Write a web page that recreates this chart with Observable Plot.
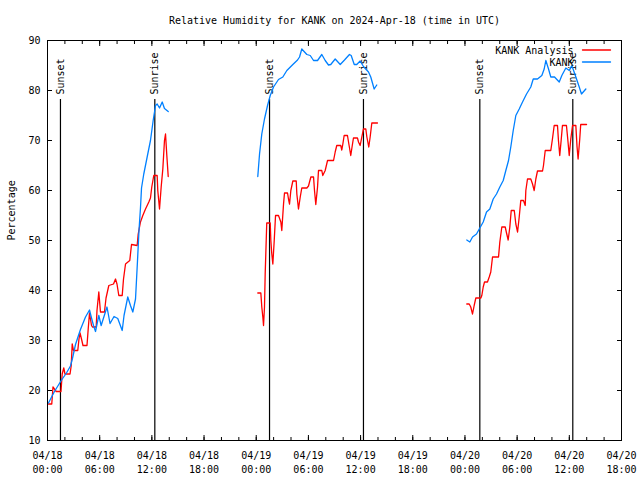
<!DOCTYPE html>
<html>
<head>
<meta charset="utf-8">
<script src="https://cdn.jsdelivr.net/npm/d3@7"></script>
<script src="https://cdn.jsdelivr.net/npm/@observablehq/plot@0.6"></script>
<style>
  html, body { margin: 0; padding: 0; background: #fff; }
</style>
</head>
<body>
<div id="chart"></div>
<script>
const titleText = "Relative Humidity for KANK on 2024-Apr-18 (time in UTC)";
const yLabel = "Percentage";
const seriesNames = ["KANK Analysis", "KANK"];
const seriesColors = ["#ff0000", "#0080ff"];

// hours since 2024-04-18 00:00 UTC; null = gap between days
const anaHours = [
  0.11,0.49,0.63,1.00,1.55,1.69,1.87,2.01,2.59,2.73,2.84,2.99,3.48,3.62,3.74,3.91,4.08,4.54,4.68,4.83,5.06,5.17,5.60,5.69,5.90,6.09,6.55,6.73,7.05,7.59,7.82,7.99,8.20,8.59,8.74,8.97,9.46,9.66,10.31,10.43,10.69,10.96,11.27,11.65,11.84,11.99,12.22,12.61,12.68,12.88,13.07,13.26,13.45,13.57,13.72,13.88,
  null,
  24.18,24.53,24.64,24.76,24.84,24.95,25.03,25.21,25.61,25.68,25.79,25.91,26.07,26.22,26.56,26.83,26.94,27.14,27.25,27.60,27.71,27.83,27.98,28.21,28.60,28.67,28.86,29.06,29.24,29.82,30.01,30.28,30.59,30.70,30.85,31.05,31.16,31.54,31.65,31.93,32.20,32.89,33.08,33.26,33.72,33.84,33.95,34.11,34.49,34.68,34.87,35.07,35.18,35.64,35.76,35.95,36.14,36.33,36.60,36.72,36.94,37.10,37.29,37.94,
  null,
  48.21,48.49,48.67,48.87,49.06,49.25,49.83,49.94,50.10,50.25,50.59,50.79,50.97,51.17,51.86,52.01,52.24,52.63,52.78,52.97,53.16,53.32,53.67,53.85,54.05,54.24,54.42,54.73,54.93,55.00,55.19,55.57,55.77,55.96,56.15,56.34,56.92,57.03,57.23,57.87,58.06,58.26,58.64,58.75,58.90,59.06,59.21,59.67,59.82,59.99,60.17,60.37,60.75,60.89,61.01,61.20,61.31,61.98
];
const anaValues = [
  17.3,17.3,20.7,19.8,19.8,23.3,24.5,23.3,23.3,25,29.3,28,28,30.3,31.5,30.3,29,29,32.3,35.5,33,32.7,32.7,36,39.7,35.7,35.7,38.5,41,41.3,42.3,41.3,39,39,42.3,45.3,46,49.2,49,51.3,53.7,55,56.3,57.7,58.5,60.7,63,63,60,56.3,60.7,64.3,70,71.3,67,62.8,
  null,
  39.5,39.5,36.7,34.7,33,36.7,43.3,53.5,53.5,50,47.3,45.3,50,55,55,53.7,52,57.3,59.5,59.5,58.3,57.3,60,61.9,61.9,59.3,56.3,58.7,60.5,60.5,60.9,62.7,62.7,60,57.2,60.7,64,64,63,64,66,66,67.7,69,69,68.1,69.2,71,71,69,67,69.3,70.5,70.5,69.7,69,70.7,72.3,72.3,70.7,68.7,70.7,73.5,73.5,
  null,
  37.3,37.3,36.7,35.3,37,38.5,38.5,39,40.7,41.7,41.7,42.7,43.7,46.7,46.7,49.7,52.7,52.7,51.5,50.1,52.7,56,56,53.3,51.7,54.7,58,58,57,60,62.3,62.3,61.3,60,62.3,63.9,63.9,65,68,68,70.3,73,73,70,67,70,73,73,70.3,67,70.3,73,73,68.7,66.3,70.3,73.2,73.2
];

const obsHours = [
  0.11,0.80,1.58,2.18,2.64,2.87,3.22,3.79,4.37,4.83,5.06,5.29,5.52,5.90,6.17,6.84,7.19,7.65,8.08,8.59,8.80,9.23,9.54,9.81,10.12,10.35,10.52,10.69,10.81,11.07,11.46,11.84,12.15,12.42,12.61,12.88,13.19,13.45,13.88,
  null,
  24.18,24.38,24.64,24.95,25.30,25.61,25.99,26.56,27.06,27.52,28.21,28.75,28.98,29.24,29.82,30.21,30.59,31.05,31.54,31.93,32.31,32.57,33.08,33.66,34.15,34.72,34.92,35.27,35.56,35.95,36.33,36.91,37.17,37.56,37.86,
  null,
  48.21,48.56,48.87,49.33,49.71,50.10,50.48,50.86,51.25,51.63,52.01,52.40,52.70,53.01,53.27,53.55,53.85,54.24,54.62,55.08,55.57,55.85,56.34,56.84,57.11,57.30,57.61,57.87,58.30,58.84,59.14,59.60,59.99,60.29,60.75,61.14,61.40,61.90
];
const obsValues = [
  17.5,19.8,22,23.5,24.9,26.4,29.2,32.2,34.7,36.1,34.5,33,31.8,35,33,36.7,33.4,34.8,34.4,32,35,38.7,37,35.7,38.3,46,52,56.5,60.5,63.3,66.7,70,74,77,77.3,76.5,77.7,76.4,75.8,
  null,
  62.8,67.3,71.3,74.3,77,79,80.7,82.2,82.7,84,85.2,86.1,86.7,88.3,87.2,87,86,86,87.2,86,85.1,85.2,86.3,85.2,86.1,87.2,87,85.2,85.2,85.9,84.8,83.7,82.7,80.3,81.1,
  null,
  50.1,49.7,50.7,51.3,52.5,53.7,55.7,56.3,58.3,59.3,60.7,62,64,66,68.7,72,75,76.3,77.7,79.3,80.7,82.3,82.3,83,84.3,86,84.3,82.7,82.7,81.7,83,84.5,84,85,82.7,80.7,79.3,80.3
];

const eventHours = [1.49, 12.34, 25.53, 36.33, 49.71, 60.40];
const eventLabels = ["Sunset", "Sunrise", "Sunset", "Sunrise", "Sunset", "Sunrise"];

const xTickHours = [0, 6, 12, 18, 24, 30, 36, 42, 48, 54, 60, 66];
const xTickLabels = ["04/18\n00:00","04/18\n06:00","04/18\n12:00","04/18\n18:00","04/19\n00:00","04/19\n06:00","04/19\n12:00","04/19\n18:00","04/20\n00:00","04/20\n06:00","04/20\n12:00","04/20\n18:00"];
const xMinorHours = d3.range(0, 67, 2);
const yTicks = [10, 20, 30, 40, 50, 60, 70, 80, 90];
const xDomainHours = [0, 66];
const yDomain = [10, 90];

const t0 = Date.UTC(2024, 3, 18);
const toDate = h => (h == null ? null : new Date(t0 + h * 3600000));

const analysis = anaHours.map((h, i) => ({t: toDate(h), v: anaValues[i]}));
const observed = obsHours.map((h, i) => ({t: toDate(h), v: obsValues[i]}));
const events = eventHours.map((h, i) => ({t: toDate(h), label: eventLabels[i]}));
const xTicks = xTickHours.map((h, i) => ({t: toDate(h), label: xTickLabels[i]}));
const majorDates = xTickHours.map(toDate);
const minorDates = xMinorHours.map(toDate);

const lineShape = {draw(context, l) { context.moveTo(0, 0); context.lineTo(0, -l); }};

const legendMarks = seriesNames.flatMap((name, i) => [
  Plot.text([name], {frameAnchor: "top-right", textAnchor: "end", lineAnchor: "middle", dx: -48, dy: 10 + i * 12, fill: "black"}),
  Plot.vector([0], {frameAnchor: "top-right", dx: -39, dy: 9.5 + i * 12, rotate: 90, length: 28, anchor: "start", shape: lineShape, stroke: seriesColors[i], strokeWidth: 1.3})
]);

const chart = Plot.plot({
  width: 640,
  height: 480,
  marginLeft: 47,
  marginRight: 19,
  marginTop: 40,
  marginBottom: 40,
  style: {fontFamily: "'DejaVu Sans Mono', monospace", fontSize: "10px", background: "white", color: "black"},
  x: {type: "utc", domain: xDomainHours.map(toDate)},
  y: {domain: yDomain},
  marks: [
    Plot.ruleX(events, {x: "t", stroke: "black", strokeWidth: 1.2, insetTop: 59}),
    Plot.text(events, {x: "t", text: "label", frameAnchor: "top", rotate: -90, textAnchor: "start", lineAnchor: "middle", dy: 54, fill: "black"}),
    Plot.line(analysis, {x: "t", y: "v", stroke: seriesColors[0], strokeWidth: 1.3}),
    Plot.line(observed, {x: "t", y: "v", stroke: seriesColors[1], strokeWidth: 1.3}),
    Plot.frame({stroke: "black"}),
    Plot.axisX({ticks: majorDates, anchor: "bottom", tickSize: -5, text: null, label: null}),
    Plot.axisX({ticks: majorDates, anchor: "top", tickSize: -5, text: null, label: null}),
    Plot.axisX({ticks: minorDates, anchor: "bottom", tickSize: -3, text: null, label: null}),
    Plot.axisX({ticks: minorDates, anchor: "top", tickSize: -3, text: null, label: null}),
    Plot.text(xTicks, {x: "t", text: "label", frameAnchor: "bottom", lineAnchor: "top", dy: 9, lineHeight: 1.4, fill: "black"}),
    Plot.axisY({ticks: yTicks, anchor: "left", tickSize: 0, tickPadding: 7, label: null}),
    Plot.axisY({ticks: yTicks, anchor: "left", tickSize: -5, text: null, label: null}),
    Plot.axisY({ticks: yTicks, anchor: "right", tickSize: -5, text: null, label: null}),
    Plot.text([yLabel], {frameAnchor: "left", rotate: -90, lineAnchor: "middle", dx: -36, fill: "black"}),
    Plot.text([titleText], {frameAnchor: "top", lineAnchor: "middle", dy: -20, fill: "black"}),
    ...legendMarks
  ]
});
document.getElementById("chart").append(chart);
</script>
</body>
</html>
